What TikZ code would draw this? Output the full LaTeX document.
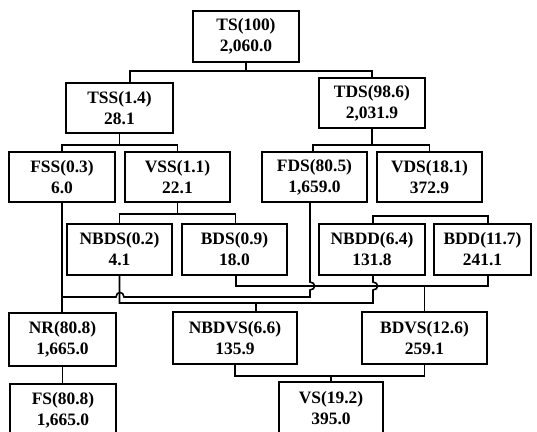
\documentclass[tikz,border=0pt]{standalone}
\usepackage{fontspec}
\setmainfont{Liberation Serif}
\begin{document}
\begin{tikzpicture}[x=1bp,y=-1bp,
  box/.style={draw, line width=1.6bp, inner sep=0pt, align=center,
    font=\bfseries\fontsize{17.5}{21}\selectfont},
  conn/.style={line width=1.6bp}]
\useasboundingbox (0,0) rectangle (537,431);
\clip (0,0) rectangle (537,431);
% level 1
\node[box, minimum width=106bp, minimum height=51bp] (TS) at (246,36.5) {TS(100)\\2,060.0};
% level 2
\node[box, minimum width=107bp, minimum height=50bp] (TSS) at (119.5,108) {TSS(1.4)\\28.1};
\node[box, minimum width=106bp, minimum height=50bp] (TDS) at (372,103) {TDS(98.6)\\2,031.9};
% level 3
\node[box, minimum width=106bp, minimum height=50bp] (FSS) at (62,177) {FSS(0.3)\\6.0};
\node[box, minimum width=105bp, minimum height=50bp] (VSS) at (177.5,177) {VSS(1.1)\\22.1};
\node[box, minimum width=105bp, minimum height=50bp] (FDS) at (314.5,177) {FDS(80.5)\\1,659.0};
\node[box, minimum width=105bp, minimum height=50bp] (VDS) at (429.5,177) {VDS(18.1)\\372.9};
% level 4
\node[box, minimum width=105bp, minimum height=51bp] (NBDS) at (119.5,249.5) {NBDS(0.2)\\4.1};
\node[box, minimum width=105bp, minimum height=51bp] (BDS) at (234.5,249.5) {BDS(0.9)\\18.0};
\node[box, minimum width=106bp, minimum height=51bp] (NBDD) at (372,249.5) {NBDD(6.4)\\131.8};
\node[box, minimum width=97bp, minimum height=51bp] (BDD) at (482.5,249.5) {BDD(11.7)\\241.1};
% level 5
\node[box, minimum width=107bp, minimum height=53bp] (NR) at (62.5,339.5) {NR(80.8)\\1,665.0};
\node[box, minimum width=124bp, minimum height=52bp] (NBDVS) at (235,338) {NBDVS(6.6)\\135.9};
\node[box, minimum width=125bp, minimum height=52bp] (BDVS) at (424.5,338) {BDVS(12.6)\\259.1};
% level 6
\node[box, minimum width=106bp, minimum height=52bp] (FS) at (63,410) {FS(80.8)\\1,665.0};
\node[box, minimum width=104bp, minimum height=52bp] (VS) at (331,408) {VS(19.2)\\395.0};

% junction coordinates
\coordinate (b1) at (246,71);
\coordinate (b2) at (120,145);
\coordinate (b3) at (372,145);
\coordinate (b4) at (177,214);
\coordinate (b5) at (430,216);
\coordinate (j1) at (62,297);
\coordinate (bb) at (424.5,286);
\coordinate (nb) at (256,303);
\coordinate (vb) at (331,376);

% TS -> TSS, TDS
\draw[conn] (TS.south) -- (b1);
\draw[conn] ([xshift=10.5bp]TSS.north) |- (b1) -| (TDS.north);
% TSS -> FSS, VSS
\draw[conn] (TSS.south) -- (TSS.south |- b2);
\draw[conn] (FSS.north) |- (b2) -| (VSS.north);
% TDS -> FDS, VDS
\draw[conn] (TDS.south) -- (b3);
\draw[conn] ([xshift=-1.5bp]FDS.north) |- (b3) -| (VDS.north);
% VSS -> NBDS, BDS
\draw[conn] (VSS.south) -- (VSS.south |- b4);
\draw[conn] (NBDS.north) |- (b4) -| ([xshift=1bp]BDS.north);
% VDS bus -> NBDD, BDD
\draw[conn] ([xshift=1bp]NBDD.north) |- (b5) -| ([xshift=5.5bp]BDD.north);
% FSS -> NR, FS
\draw[conn] (FSS.south) -- (FSS.south |- NR.north);
\draw[conn] (NR.south) -- (NR.south |- FS.north);
% FDS -> NR (via FSS line)
\draw[conn] (j1) -- (116,297) .. controls (116,291) and (124,291) .. (124,297)
  -- (310,297) -- (310,290) .. controls (316,290) and (316,282) .. (310,282)
  -- ([xshift=-4.5bp]FDS.south);
% BDS, BDD -> BDVS
\draw[conn] ([xshift=1.5bp]BDS.south) |- (bb) -| ([xshift=5.5bp]BDD.south);
\draw[conn] (bb) -- (BDVS.north);
% NBDS, NBDD -> NBDVS
\draw[conn] (NBDS.south) |- (nb) -- (373,303) -- (373,290)
  .. controls (379,290) and (379,282) .. (373,282) -- ([xshift=1bp]NBDD.south);
\draw[conn] (nb) -- ([xshift=21bp]NBDVS.north);
% NBDVS, BDVS -> VS
\draw[conn] (NBDVS.south) |- (vb) -| (BDVS.south);
\draw[conn] (vb) -- (VS.north);
\end{tikzpicture}
\end{document}
